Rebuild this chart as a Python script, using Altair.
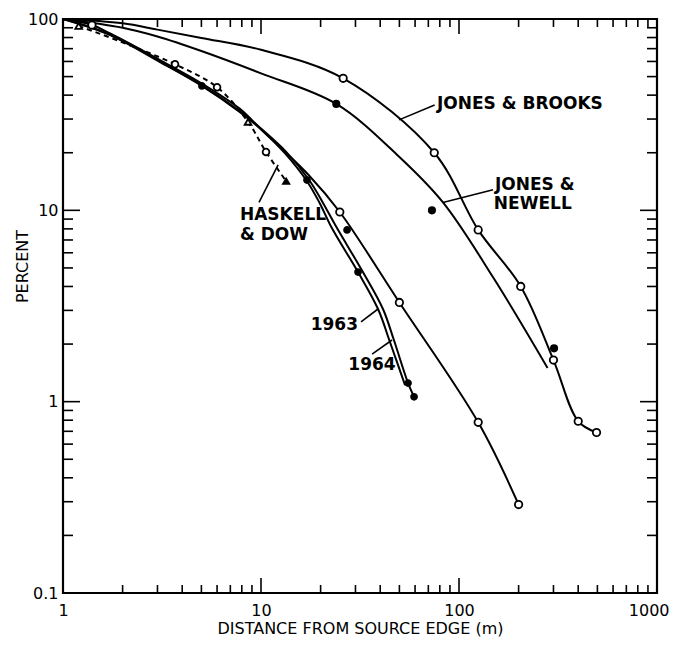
import altair as alt
import pandas as pd

# ---------------- data ----------------
# Jones & Brooks curve and its open-circle points
jb_x = [1, 2, 3, 5, 10, 26, 75, 125, 205, 300, 400, 495]
jb_y = [100, 95, 88, 79.6, 69, 49, 20, 7.9, 4.0, 1.65, 0.79, 0.69]
jb_pts_x = [26, 75, 125, 205, 300, 400, 495]
jb_pts_y = [49, 20, 7.9, 4.0, 1.65, 0.79, 0.69]

# Jones & Newell fitted curve and its filled points
jn_x = [1, 2, 3, 5, 10, 24, 50, 83, 150, 280]
jn_y = [100, 90, 81, 68, 52, 36, 19, 11, 4.4, 1.5]
jn_pts_x = [24, 73, 302]
jn_pts_y = [36, 10, 1.9]

# lower open-circle curve
oc_x = [1, 1.4, 1.73, 3.09, 5.03, 7.8, 10, 17.3, 25, 50, 125, 200]
oc_y = [100, 93, 84, 61, 46, 34, 26.5, 15.4, 9.8, 3.3, 0.78, 0.29]
oc_pts_x = [1.4, 25, 50, 125, 200]
oc_pts_y = [93, 9.8, 3.3, 0.78, 0.29]
oc_dot_x = [27.2]
oc_dot_y = [7.9]

# 1963 curve
c63_x = [1, 1.73, 3.09, 5.03, 7.8, 10.1, 13.2, 17.07, 19.8, 22.8, 30.9, 39.0, 44.8, 53.4]
c63_y = [100, 82.5, 59.6, 44.7, 32.7, 26.3, 19.9, 14.2, 10.9, 8.08, 4.76, 3.05, 2.05, 1.22]
# 1964 curve
c64_x = [1, 1.73, 3.09, 5.03, 7.8, 10.1, 13.4, 17.5, 20.6, 24.2, 32.7, 41.3, 46.9, 55.3, 59.3]
c64_y = [100, 83, 60, 45, 33, 26.5, 20.2, 14.4, 10.9, 8.08, 4.76, 3.05, 2.10, 1.25, 1.06]
c6x_pts_x = [5.03, 17.07, 30.9, 55.3, 59.3]
c6x_pts_y = [44.7, 14.4, 4.76, 1.25, 1.06]

# Haskell & Dow (dashed)
hd_x = [1.2, 2.1, 3.68, 6.0, 8.6, 10.6, 13.4]
hd_y = [92, 74, 58, 44, 29, 20.2, 14.2]
hd_circ_x = [3.68, 6.0, 10.6]
hd_circ_y = [58, 44, 20.2]
hd_tri_x = [1.2, 8.6]
hd_tri_y = [92, 29]
hd_end_x = [13.4]
hd_end_y = [14.2]

# annotations
ann_text = ["JONES & BROOKS", "JONES &", "NEWELL", "HASKELL", "& DOW", "1963", "1964"]
ann_x = [77.4, 152, 150, 7.83, 7.83, 30.9, 27.6]
ann_y = [36, 13.6, 10.8, 9.44, 7.43, 2.51, 1.55]
ann_align = ["left", "left", "left", "left", "left", "right", "left"]

lead_x = [75.3, 148.6, 9.77, 32.0, 36.4]
lead_y = [35.5, 12.8, 11.0, 2.61, 1.77]
lead_x2 = [49.8, 83.0, 12.2, 39.0, 45.9]
lead_y2 = [29.7, 11.0, 17.3, 3.05, 2.10]

x_major = [1, 10, 100, 1000]
y_major = [0.1, 1, 10, 100]
x_minor = [m * 10 ** k for k in range(3) for m in range(2, 10)]
y_minor = [round(m * 10.0 ** k, 3) for k in range(-1, 2) for m in range(2, 10)]

# ---------------- chart ----------------
W, H = 594, 574
FONT = "DejaVu Sans"

xs = alt.Scale(type="log", domain=[1, 1000], nice=False)
ys = alt.Scale(type="log", domain=[0.1, 100], nice=False)

xaxis = alt.Axis(
    values=x_major, format="~g", ticks=False, domain=False, grid=False,
    labelFont=FONT, labelFontSize=16, labelColor="black", labelPadding=9,
    labelAlign={"condition": {"test": "datum.value >= 1000", "value": "right"}, "value": "center"},
    labelOffset={"condition": {"test": "datum.value >= 1000", "value": 12}, "value": 0},
    title="DISTANCE  FROM  SOURCE  EDGE (m)", titleFont=FONT, titleFontSize=16,
    titleFontWeight="normal", titleColor="black", titlePadding=2,
)
yaxis = alt.Axis(
    values=y_major, format="~g", ticks=False, domain=False, grid=False,
    labelFont=FONT, labelFontSize=16, labelColor="black", labelPadding=5,
    title="PERCENT", titleFont=FONT, titleFontSize=16, titleFontWeight="normal",
    titleColor="black", titleX=-41, titleY=247, titleBaseline="middle",
)


def X(f="x"):
    return alt.X(f"{f}:Q", scale=xs, axis=xaxis)


def Y(f="y"):
    return alt.Y(f"{f}:Q", scale=ys, axis=yaxis)


def df(xv, yv):
    return pd.DataFrame({"x": xv, "y": yv, "i": range(len(xv))})


def line(xv, yv, dash=None):
    kw = dict(color="black", strokeWidth=2, interpolate="catmull-rom")
    if dash:
        kw["strokeDash"] = dash
    return alt.Chart(df(xv, yv)).mark_line(**kw).encode(x=X(), y=Y(), order="i:Q")


def pts(xv, yv, shape="circle", filled=False, size=55):
    return alt.Chart(df(xv, yv)).mark_point(
        shape=shape, filled=True,
        fill="black" if filled else "white", stroke="black",
        strokeWidth=1.8, size=size, opacity=1,
    ).encode(x=X(), y=Y())


layers = [
    line(jb_x, jb_y), line(jn_x, jn_y), line(oc_x, oc_y),
    line(c63_x, c63_y), line(c64_x, c64_y),
    line(hd_x, hd_y, dash=[5, 4]),
    pts(jb_pts_x, jb_pts_y), pts(oc_pts_x, oc_pts_y),
    pts(jn_pts_x, jn_pts_y, filled=True, size=40),
    pts(oc_dot_x, oc_dot_y, filled=True, size=35),
    pts(c6x_pts_x, c6x_pts_y, filled=True, size=35),
    pts(hd_circ_x, hd_circ_y, size=45),
    pts(hd_tri_x, hd_tri_y, shape="triangle-up", size=45),
    pts(hd_end_x, hd_end_y, shape="triangle-up", filled=True, size=40),
]

# leader lines
lead_df = pd.DataFrame({"x": lead_x, "y": lead_y, "x2": lead_x2, "y2": lead_y2})
layers.append(
    alt.Chart(lead_df).mark_rule(color="black", strokeWidth=1.6).encode(
        x=X(), y=Y(), x2="x2:Q", y2="y2:Q"
    )
)

# annotation text
ann_df = pd.DataFrame({"t": ann_text, "x": ann_x, "y": ann_y, "a": ann_align})
for al in ["left", "right"]:
    layers.append(
        alt.Chart(ann_df[ann_df.a == al]).mark_text(
            align=al, baseline="middle", font=FONT, fontSize=17,
            fontWeight="bold", color="black",
        ).encode(x=X(), y=Y(), text="t:N")
    )

# inward tick marks on all four sides
xt_min = pd.DataFrame({"x": x_minor})
xt_maj = pd.DataFrame({"x": x_major[1:-1]})
yt_min = pd.DataFrame({"y": y_minor})
yt_maj = pd.DataFrame({"y": y_major[1:-1]})
for d, ln in [(xt_min, 8), (xt_maj, 15)]:
    layers.append(alt.Chart(d).mark_rule(color="black", strokeWidth=1.6).encode(
        x=X(), y=alt.value(H), y2=alt.value(H - ln)))
    layers.append(alt.Chart(d).mark_rule(color="black", strokeWidth=1.6).encode(
        x=X(), y=alt.value(0), y2=alt.value(ln)))
for d, ln in [(yt_min, 10), (yt_maj, 17)]:
    layers.append(alt.Chart(d).mark_rule(color="black", strokeWidth=1.6).encode(
        y=Y(), x=alt.value(0), x2=alt.value(ln)))
    layers.append(alt.Chart(d).mark_rule(color="black", strokeWidth=1.6).encode(
        y=Y(), x=alt.value(W), x2=alt.value(W - ln)))

chart = alt.layer(*layers).properties(
    width=W, height=H,
    autosize=alt.AutoSizeParams(type="none"),
    padding={"left": 55, "top": 11, "right": 12, "bottom": 44},
    background="white",
).configure_view(stroke="black", strokeWidth=2.2)

chart.save("out.html", embed_options={"renderer": "svg", "actions": False})
